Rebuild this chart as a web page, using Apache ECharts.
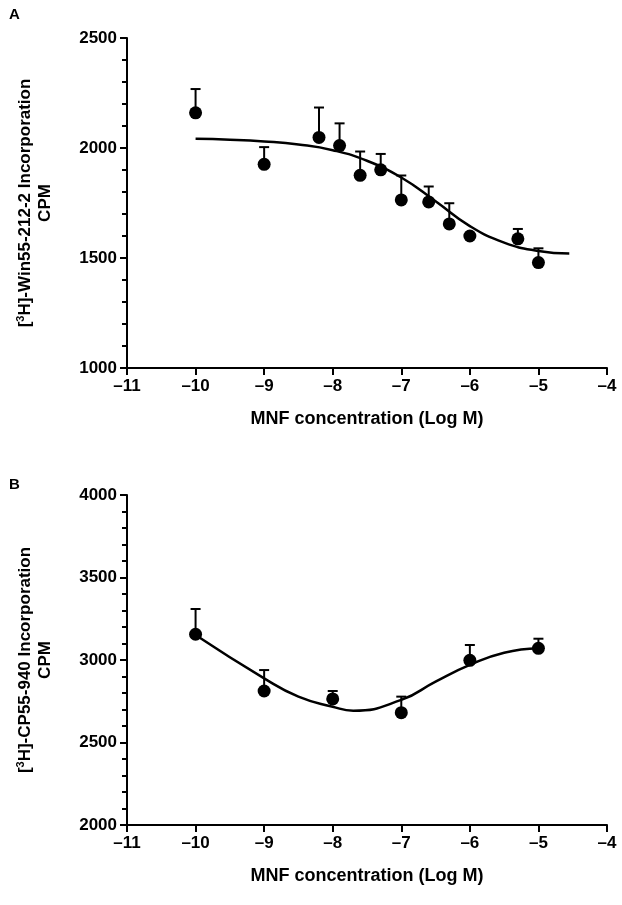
<!DOCTYPE html>
<html>
<head>
<meta charset="utf-8">
<script src="https://cdn.jsdelivr.net/npm/echarts@6/dist/echarts.min.js"></script>
<style>
  html, body { margin: 0; padding: 0; background: #fff; }
  #chart { width: 622px; height: 905px; }
</style>
</head>
<body>
<div id="chart"></div>
<script>
// 图A：Win55-212-2 数据点 [log M, 均值, 误差上限]
var doseA = [-10, -9, -8.2, -7.9, -7.6, -7.3, -7, -6.6, -6.3, -6, -5.3, -5];
var meanA = [2160, 1926, 2048, 2011, 1876, 1901, 1764, 1755, 1655, 1600, 1587, 1479];
var errTopA = [2268, 2004, 2184, 2112, 1984, 1973, 1875, 1825, 1749, 1600, 1632, 1544];
// 图A拟合曲线
var curveXA = [-10, -9.5, -9, -8.5, -8, -7.5, -7, -6.5, -6, -5.5, -5, -4.55];
var curveYA = [2042, 2038, 2030, 2016, 1990, 1942, 1866, 1758, 1645, 1570, 1532, 1520];

// 图B：CP55-940
var doseB = [-10, -9, -8, -7, -6, -5];
var meanB = [3156, 2812, 2764, 2681, 2998, 3071];
var errTopB = [3309, 2939, 2812, 2778, 3091, 3129];
var curveXB = [-10, -9, -8.5, -8, -7.7, -7, -6.5, -6, -5.5, -5];
var curveYB = [3152, 2889, 2778, 2717, 2693, 2758, 2869, 2970, 3044, 3071];

var font = 'Liberation Sans, Arial, sans-serif';
var chart = echarts.init(document.getElementById('chart'));

function pairs(xs, ys) { return xs.map(function (x, i) { return [x, ys[i]]; }); }
function errData(xs, m, t) { return xs.map(function (x, i) { return [x, m[i], t[i]]; }); }

function errorBar(params, api) {
  var p0 = api.coord([api.value(0), api.value(1)]);
  var p1 = api.coord([api.value(0), api.value(2)]);
  if (p0[1] - p1[1] < 1) return;
  var style = { stroke: '#000', lineWidth: 2 };
  return {
    type: 'group',
    children: [
      { type: 'line', shape: { x1: p0[0], y1: p0[1], x2: p1[0], y2: p1[1] }, style: style },
      { type: 'line', shape: { x1: p1[0] - 5, y1: p1[1], x2: p1[0] + 5, y2: p1[1] }, style: style }
    ]
  };
}

function xAxisOpt(idx) {
  return {
    type: 'value', gridIndex: idx, min: -11, max: -4, interval: 1,
    name: 'MNF concentration (Log M)', nameLocation: 'middle', nameGap: 42,
    nameTextStyle: { fontFamily: font, fontWeight: 'bold', fontSize: 18, color: '#000' },
    axisLine: { lineStyle: { color: '#000', width: 2 } },
    axisTick: { length: 7, lineStyle: { color: '#000', width: 2 } },
    axisLabel: { fontFamily: font, fontWeight: 'bold', fontSize: 17, color: '#000', margin: 10,
      formatter: function (v) { return String(v).replace('-', '\u2013'); } },
    splitLine: { show: false }
  };
}

function yAxisOpt(idx, min, max, label) {
  return {
    type: 'value', gridIndex: idx, min: min, max: max, interval: 500,
    name: '{t|[}{s|3}{t|H]-' + label + ' Incorporation}\n{t|CPM}',
    nameLocation: 'middle', nameGap: 72, nameRotate: 90,
    nameTextStyle: {
      rich: {
        t: { fontFamily: font, fontWeight: 'bold', fontSize: 17, color: '#000', lineHeight: 20 },
        s: { fontFamily: font, fontWeight: 'bold', fontSize: 11, color: '#000', verticalAlign: 'top', lineHeight: 20 }
      }
    },
    axisLine: { show: true, lineStyle: { color: '#000', width: 2 } },
    axisTick: { length: 7, lineStyle: { color: '#000', width: 2 } },
    minorTick: { show: true, splitNumber: 5, length: 5, lineStyle: { color: '#000', width: 2 } },
    axisLabel: { fontFamily: font, fontWeight: 'bold', fontSize: 17, color: '#000', margin: 10,
      formatter: function (v) { return String(v); } },
    splitLine: { show: false }
  };
}

var option = {
  animation: false,
  title: [
    { text: 'A', left: 4, top: 2, textStyle: { fontFamily: font, fontWeight: 'bold', fontSize: 15, color: '#000' } },
    { text: 'B', left: 4, top: 472, textStyle: { fontFamily: font, fontWeight: 'bold', fontSize: 15, color: '#000' } }
  ],
  grid: [
    { left: 127, top: 38, width: 480, height: 330 },
    { left: 127, top: 495, width: 480, height: 330 }
  ],
  xAxis: [xAxisOpt(0), xAxisOpt(1)],
  yAxis: [yAxisOpt(0, 1000, 2500, 'Win55-212-2'), yAxisOpt(1, 2000, 4000, 'CP55-940')],
  series: [
    { type: 'custom', xAxisIndex: 0, yAxisIndex: 0, renderItem: errorBar, data: errData(doseA, meanA, errTopA), z: 2 },
    { type: 'line', xAxisIndex: 0, yAxisIndex: 0, data: pairs(curveXA, curveYA), smooth: 0.5, showSymbol: false,
      lineStyle: { color: '#000', width: 2.5 }, z: 3 },
    { type: 'scatter', xAxisIndex: 0, yAxisIndex: 0, data: pairs(doseA, meanA), symbolSize: 13,
      itemStyle: { color: '#000', opacity: 1 }, z: 4 },
    { type: 'custom', xAxisIndex: 1, yAxisIndex: 1, renderItem: errorBar, data: errData(doseB, meanB, errTopB), z: 2 },
    { type: 'line', xAxisIndex: 1, yAxisIndex: 1, data: pairs(curveXB, curveYB), smooth: 0.5, showSymbol: false,
      lineStyle: { color: '#000', width: 2.5 }, z: 3 },
    { type: 'scatter', xAxisIndex: 1, yAxisIndex: 1, data: pairs(doseB, meanB), symbolSize: 13,
      itemStyle: { color: '#000', opacity: 1 }, z: 4 }
  ]
};

chart.setOption(option);
</script>
</body>
</html>
